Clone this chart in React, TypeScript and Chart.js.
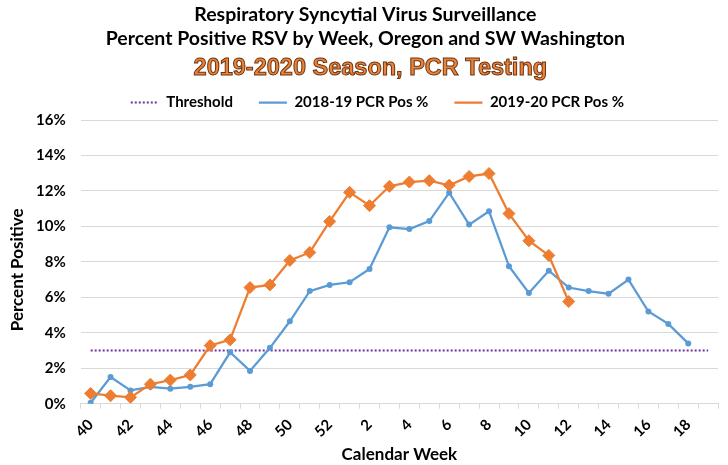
import React, { useEffect, useRef } from 'react';
import { Chart, registerables } from 'chart.js';

Chart.register(...registerables);

const WEEKS = [
  '40', '41', '42', '43', '44', '45', '46', '47', '48', '49', '50', '51', '52',
  '1', '2', '3', '4', '5', '6', '7', '8', '9', '10', '11', '12', '13', '14', '15', '16', '17', '18', '19',
];

const THRESHOLD = [
  3, 3, 3, 3, 3, 3, 3, 3, 3, 3, 3, 3, 3,
  3, 3, 3, 3, 3, 3, 3, 3, 3, 3, 3, 3, 3, 3, 3, 3, 3, 3, 3,
];

const PCR_2018_19 = [
  0.05, 1.5, 0.75, 0.95, 0.85, 0.95, 1.1, 2.9, 1.85, 3.15, 4.65, 6.35, 6.7,
  6.85, 7.6, 9.95, 9.85, 10.3, 11.9, 10.1, 10.85, 7.75, 6.25, 7.5, 6.55, 6.35, 6.2, 7.0, 5.2, 4.5, 3.4, null,
];

const PCR_2019_20 = [
  0.58, 0.45, 0.36, 1.1, 1.33, 1.62, 3.28, 3.6, 6.55, 6.7, 8.08, 8.53, 10.28,
  11.92, 11.17, 12.26, 12.5, 12.58, 12.32, 12.82, 12.98, 10.72, 9.19, 8.36, 5.76, null, null, null, null, null, null, null,
];

const TITLE_LINES = [
  'Respiratory Syncytial Virus Surveillance',
  'Percent Positive RSV by Week, Oregon and SW Washington',
];
const SUBTITLE = '2019-2020 Season, PCR Testing';
const X_TITLE = 'Calendar Week';
const Y_TITLE = 'Percent Positive';
const SERIES_NAMES = ['Threshold', '2018-19 PCR Pos %', '2019-20 PCR Pos %'];

const FONT = 'Lato, "Liberation Sans", sans-serif';
const SUB_FONT = '"Liberation Sans", Arial, sans-serif';
const SUB_SIZE = 23.5;

const TITLE_SHIFT = 5;
const SUBTITLE_SHIFT = 10;
const LEGEND_SHIFT = 17;
const YTITLE_SHIFT = 8;

const tweaks = {
  id: 'tweaks',
  afterLayout(chart: any) {
    for (const b of chart.boxes) {
      if (b === chart.legend) {
        b.left += LEGEND_SHIFT;
        b.right += LEGEND_SHIFT;
      } else if (b === chart.titleBlock) {
        b.left += TITLE_SHIFT;
        b.right += TITLE_SHIFT;
      } else if (b.options && b.options.text === SUBTITLE) {
        b.left += SUBTITLE_SHIFT;
        b.right += SUBTITLE_SHIFT;
      }
    }
    const y = chart.scales.y;
    if (y && !y.__patched) {
      const orig = y.drawTitle;
      y.drawTitle = function () {
        const t = this.top;
        const bt = this.bottom;
        this.top = t + YTITLE_SHIFT;
        this.bottom = bt + YTITLE_SHIFT;
        orig.call(this);
        this.top = t;
        this.bottom = bt;
      };
      y.__patched = true;
    }
  },
  afterDraw(chart: any) {
    const sub = chart.boxes.find((b: any) => b.options && b.options.text === SUBTITLE);
    if (!sub) return;
    const ctx = chart.ctx;
    ctx.save();
    ctx.font = `bold ${SUB_SIZE}px ${SUB_FONT}`;
    ctx.textAlign = 'center';
    ctx.textBaseline = 'middle';
    ctx.lineWidth = 1;
    ctx.strokeStyle = '#6E3410';
    ctx.strokeText(SUBTITLE, (sub.left + sub.right) / 2, sub.top + sub._padding.top + 0.5);
    ctx.restore();
  },
};

export default function App() {
  const ref = useRef<HTMLCanvasElement | null>(null);

  useEffect(() => {
    if (!ref.current) return;
    const chart = new Chart(ref.current, {
      type: 'line',
      data: {
        labels: WEEKS,
        datasets: [
          {
            label: SERIES_NAMES[0],
            data: THRESHOLD,
            borderColor: '#7030A0',
            backgroundColor: '#7030A0',
            borderWidth: 2,
            borderDash: [2, 2],
            pointRadius: 0,
            order: 2,
          },
          {
            label: SERIES_NAMES[1],
            data: PCR_2018_19,
            borderColor: '#5B9BD5',
            backgroundColor: '#5B9BD5',
            borderWidth: 2.25,
            pointStyle: 'circle',
            pointRadius: 3,
            pointBorderWidth: 0,
            pointBackgroundColor: '#5B9BD5',
            order: 1,
          },
          {
            label: SERIES_NAMES[2],
            data: PCR_2019_20,
            borderColor: '#ED7D31',
            backgroundColor: '#ED7D31',
            borderWidth: 2.25,
            pointStyle: 'rectRot',
            pointRadius: 6,
            pointBorderWidth: 1,
            pointBackgroundColor: '#ED7D31',
            pointBorderColor: '#ED7D31',
            order: 0,
          },
        ],
      },
      options: {
        responsive: false,
        animation: false,
        devicePixelRatio: 1,
        layout: { padding: { left: 0, right: 7.3, top: 0, bottom: 0 } },
        plugins: {
          title: {
            display: true,
            text: TITLE_LINES,
            color: '#000',
            font: { family: FONT, size: 19.5, weight: 'bold', lineHeight: '23.5px' },
            padding: { top: 3.25, bottom: 0 },
          },
          subtitle: {
            display: true,
            text: SUBTITLE,
            color: '#E9843C',
            font: { family: SUB_FONT, size: SUB_SIZE, weight: 'bold', lineHeight: '1px' },
            padding: { top: 17.75, bottom: 0 },
          },
          legend: {
            display: true,
            position: 'top',
            labels: {
              usePointStyle: true,
              pointStyle: 'line',
              pointStyleWidth: 28,
              padding: 26,
              color: '#000',
              font: { family: FONT, size: 15, weight: 'bold' },
              generateLabels: (ch: any) =>
                ch.data.datasets.map((ds: any, i: number) => ({
                  text: ds.label,
                  fillStyle: ds.borderColor,
                  strokeStyle: ds.borderColor,
                  lineWidth: ds.borderWidth,
                  lineDash: ds.borderDash || [],
                  lineCap: 'butt',
                  pointStyle: 'line',
                  hidden: false,
                  datasetIndex: i,
                  fontColor: '#000',
                })),
            },
          },
          tooltip: { enabled: false },
        },
        scales: {
          x: {
            type: 'category',
            offset: true,
            grid: {
              offset: true,
              drawOnChartArea: false,
              drawTicks: true,
              tickLength: 5,
              color: '#D9D9D9',
            },
            border: { color: '#D9D9D9', width: 1 },
            ticks: {
              autoSkip: false,
              maxRotation: 45,
              minRotation: 45,
              padding: 7,
              color: '#000',
              font: { family: FONT, size: 15, weight: 'bold' },
              callback: (_v: any, i: number) => (i % 2 === 0 ? WEEKS[i] : ''),
            },
            title: {
              display: true,
              text: X_TITLE,
              color: '#000',
              font: { family: FONT, size: 17, weight: 'bold' },
              padding: { top: 0, bottom: 0 },
            },
            afterFit: (s: any) => {
              s.height = 61.3;
            },
          },
          y: {
            min: 0,
            max: 16,
            grid: { color: '#D9D9D9', drawTicks: false, lineWidth: 1 },
            border: { display: false },
            ticks: {
              stepSize: 2,
              padding: 15,
              color: '#000',
              font: { family: FONT, size: 15, weight: 'bold' },
              callback: (v: any) => `${v}%`,
            },
            title: {
              display: true,
              text: Y_TITLE,
              color: '#000',
              font: { family: FONT, size: 17, weight: 'bold' },
              padding: { top: 7.8, bottom: 0 },
            },
            afterFit: (s: any) => {
              s.width = 80.7;
            },
          },
        },
      },
      plugins: [tweaks],
    } as any);
    return () => chart.destroy();
  }, []);

  return (
    <div style={{ position: 'fixed', left: 0, top: 0, width: 728, height: 465, background: '#fff' }}>
      <canvas ref={ref} width={728} height={465} />
    </div>
  );
}
